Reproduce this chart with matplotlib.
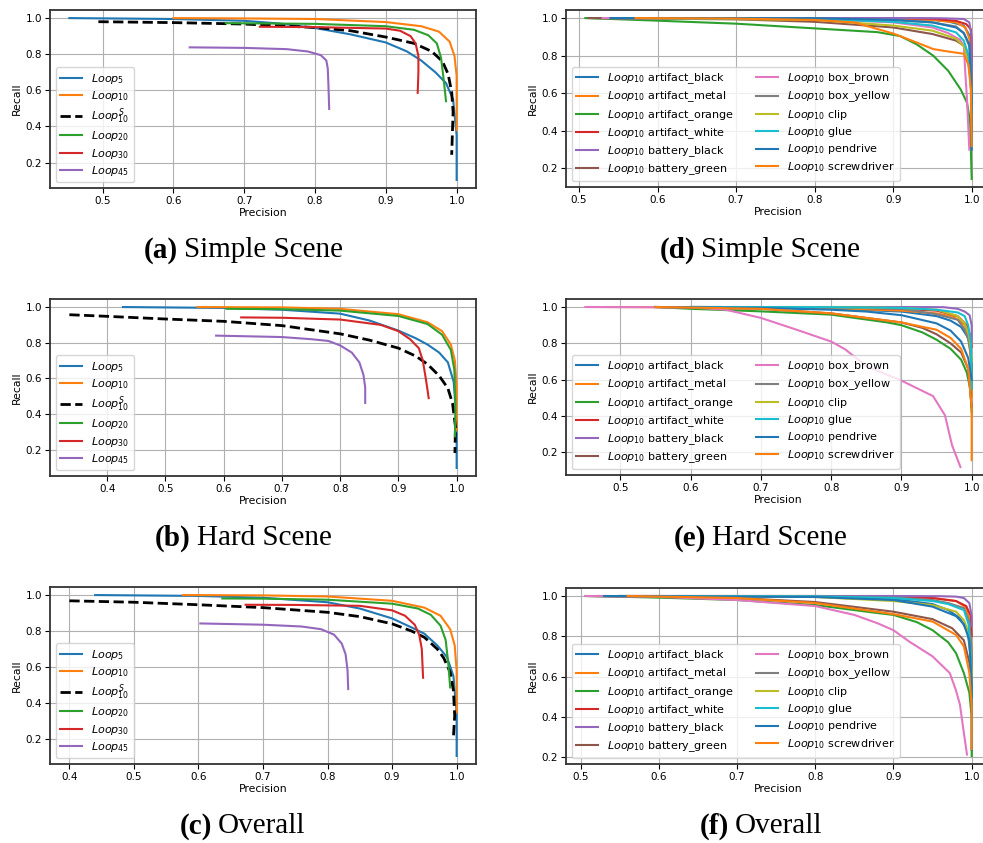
import matplotlib
matplotlib.use("Agg")
import matplotlib.pyplot as plt

# ---------------- data (precision, recall) ----------------
loop_names = ["$Loop_{5}$", "$Loop_{10}$", "$Loop^{S}_{10}$", "$Loop_{20}$", "$Loop_{30}$", "$Loop_{45}$"]

simple_loops = {
    "$Loop_{5}$": ([0.453, 0.6, 0.7, 0.75, 0.8, 0.85, 0.9, 0.93, 0.95, 0.97, 0.985, 0.995, 1.0, 1.0],
                   [1.0, 0.995, 0.985, 0.97, 0.945, 0.91, 0.865, 0.815, 0.765, 0.70, 0.64, 0.55, 0.35, 0.104]),
    "$Loop_{10}$": ([0.6, 0.7, 0.8, 0.9, 0.95, 0.975, 0.99, 0.997, 1.0, 1.0],
                    [1.0, 0.998, 0.995, 0.978, 0.955, 0.925, 0.87, 0.79, 0.68, 0.38]),
    "$Loop^{S}_{10}$": ([0.494, 0.6, 0.7, 0.8, 0.85, 0.9, 0.94, 0.965, 0.98, 0.988, 0.993, 0.995, 0.993],
                        [0.98, 0.975, 0.967, 0.948, 0.93, 0.895, 0.86, 0.815, 0.76, 0.69, 0.59, 0.48, 0.243]),
    "$Loop_{20}$": ([0.674, 0.8, 0.9, 0.94, 0.96, 0.972, 0.978, 0.982, 0.985],
                    [0.972, 0.968, 0.955, 0.935, 0.905, 0.86, 0.78, 0.65, 0.54]),
    "$Loop_{30}$": ([0.722, 0.8, 0.9, 0.92, 0.935, 0.942, 0.946, 0.946, 0.945],
                    [0.952, 0.95, 0.942, 0.93, 0.90, 0.86, 0.79, 0.70, 0.586]),
    "$Loop_{45}$": ([0.623, 0.7, 0.76, 0.79, 0.808, 0.816, 0.818, 0.819, 0.82],
                    [0.838, 0.835, 0.828, 0.815, 0.795, 0.765, 0.72, 0.62, 0.497]),
}

hard_loops = {
    "$Loop_{5}$": ([0.427, 0.6, 0.7, 0.8, 0.85, 0.9, 0.93, 0.95, 0.97, 0.985, 0.995, 1.0, 1.0],
                   [1.0, 0.995, 0.985, 0.963, 0.925, 0.868, 0.825, 0.79, 0.745, 0.69, 0.58, 0.35, 0.099]),
    "$Loop_{10}$": ([0.555, 0.7, 0.8, 0.9, 0.95, 0.975, 0.99, 0.997, 1.0, 1.0],
                    [1.0, 0.998, 0.99, 0.96, 0.915, 0.865, 0.79, 0.70, 0.55, 0.31]),
    "$Loop^{S}_{10}$": ([0.335, 0.4, 0.5, 0.6, 0.7, 0.8, 0.85, 0.9, 0.93, 0.95, 0.97, 0.985, 0.993, 0.998, 0.997],
                        [0.957, 0.948, 0.933, 0.92, 0.896, 0.85, 0.815, 0.77, 0.725, 0.68, 0.615, 0.545, 0.46, 0.33, 0.183]),
    "$Loop_{20}$": ([0.605, 0.7, 0.8, 0.9, 0.95, 0.975, 0.99, 0.996, 0.998, 0.997],
                    [0.99, 0.988, 0.98, 0.95, 0.905, 0.845, 0.76, 0.65, 0.45, 0.276]),
    "$Loop_{30}$": ([0.63, 0.7, 0.8, 0.87, 0.9, 0.92, 0.935, 0.942, 0.948, 0.952],
                    [0.942, 0.94, 0.93, 0.90, 0.865, 0.82, 0.77, 0.70, 0.58, 0.49]),
    "$Loop_{45}$": ([0.587, 0.7, 0.75, 0.78, 0.8, 0.82, 0.833, 0.84, 0.843, 0.843],
                    [0.84, 0.832, 0.82, 0.81, 0.785, 0.745, 0.69, 0.62, 0.55, 0.463]),
}

overall_loops = {
    "$Loop_{5}$": ([0.44, 0.6, 0.7, 0.8, 0.85, 0.9, 0.93, 0.95, 0.97, 0.985, 0.995, 1.0, 1.0],
                   [1.0, 0.995, 0.985, 0.96, 0.925, 0.87, 0.82, 0.785, 0.72, 0.655, 0.55, 0.34, 0.105]),
    "$Loop_{10}$": ([0.576, 0.7, 0.8, 0.9, 0.95, 0.975, 0.99, 0.997, 1.0, 1.0],
                    [1.0, 0.998, 0.992, 0.968, 0.93, 0.885, 0.81, 0.72, 0.58, 0.347]),
    "$Loop^{S}_{10}$": ([0.4, 0.5, 0.6, 0.7, 0.8, 0.85, 0.9, 0.93, 0.95, 0.97, 0.98, 0.99, 0.995, 0.997, 0.995],
                        [0.968, 0.96, 0.946, 0.93, 0.904, 0.88, 0.84, 0.80, 0.765, 0.70, 0.65, 0.57, 0.47, 0.33, 0.208]),
    "$Loop_{20}$": ([0.637, 0.7, 0.8, 0.9, 0.94, 0.96, 0.975, 0.983, 0.987, 0.99],
                    [0.981, 0.98, 0.974, 0.952, 0.925, 0.89, 0.83, 0.75, 0.62, 0.486]),
    "$Loop_{30}$": ([0.673, 0.75, 0.85, 0.9, 0.92, 0.935, 0.942, 0.946, 0.947, 0.948],
                    [0.946, 0.945, 0.94, 0.915, 0.885, 0.835, 0.78, 0.70, 0.62, 0.54]),
    "$Loop_{45}$": ([0.603, 0.7, 0.76, 0.79, 0.81, 0.822, 0.828, 0.831, 0.832],
                    [0.842, 0.835, 0.825, 0.81, 0.78, 0.73, 0.67, 0.58, 0.477]),
}

object_names = ["artifact_black", "artifact_metal", "artifact_orange", "artifact_white",
                "battery_black", "battery_green", "box_brown", "box_yellow",
                "clip", "glue", "pendrive", "screwdriver"]

simple_objects = {
    "artifact_black": ([0.52, 0.8, 0.9, 0.95, 0.97, 0.99, 0.997, 1.0, 1.0],
                       [1.0, 1.0, 0.998, 0.99, 0.982, 0.96, 0.91, 0.80, 0.62]),
    "artifact_metal": ([0.57, 0.8, 0.9, 0.95, 0.98, 0.992, 0.998, 1.0, 1.0],
                       [1.0, 0.999, 0.996, 0.99, 0.977, 0.95, 0.88, 0.65, 0.38]),
    "artifact_orange": ([0.508, 0.6, 0.7, 0.8, 0.88, 0.909, 0.93, 0.951, 0.97, 0.986, 0.994, 0.998, 1.0],
                        [1.0, 0.986, 0.97, 0.945, 0.925, 0.904, 0.86, 0.80, 0.72, 0.62, 0.55, 0.45, 0.144]),
    "artifact_white": ([0.55, 0.8, 0.9, 0.95, 0.98, 0.993, 0.999, 1.0, 1.0],
                       [1.0, 1.0, 0.999, 0.996, 0.985, 0.968, 0.94, 0.85, 0.78]),
    "battery_black": ([0.56, 0.8, 0.9, 0.96, 0.99, 0.997, 1.0, 1.0],
                      [1.0, 1.0, 1.0, 0.999, 0.995, 0.977, 0.90, 0.62]),
    "battery_green": ([0.512, 0.7, 0.8, 0.85, 0.9, 0.95, 0.98, 0.99, 0.995, 0.998, 1.0],
                      [1.0, 0.993, 0.98, 0.965, 0.95, 0.915, 0.88, 0.853, 0.80, 0.70, 0.55]),
    "box_brown": ([0.53, 0.8, 0.9, 0.95, 0.97, 0.985, 0.99, 0.992, 0.994, 0.997],
                  [1.0, 0.995, 0.977, 0.95, 0.92, 0.885, 0.853, 0.70, 0.57, 0.30]),
    "box_yellow": ([0.55, 0.8, 0.9, 0.95, 0.98, 0.99, 0.997, 1.0, 1.0],
                   [1.0, 0.998, 0.99, 0.977, 0.955, 0.92, 0.85, 0.70, 0.55]),
    "clip": ([0.57, 0.8, 0.9, 0.95, 0.98, 0.99, 0.995, 0.998, 1.0],
             [1.0, 0.99, 0.96, 0.933, 0.89, 0.85, 0.78, 0.68, 0.60]),
    "glue": ([0.56, 0.8, 0.9, 0.95, 0.98, 0.99, 0.996, 0.999, 1.0],
             [1.0, 0.995, 0.98, 0.96, 0.924, 0.88, 0.80, 0.66, 0.50]),
    "pendrive": ([0.54, 0.8, 0.9, 0.95, 0.98, 0.99, 0.997, 1.0, 1.0],
                 [1.0, 0.999, 0.99, 0.977, 0.95, 0.92, 0.86, 0.60, 0.30]),
    "screwdriver": ([0.572, 0.7, 0.8, 0.85, 0.9, 0.93, 0.951, 0.97, 0.99, 0.996, 0.999, 1.0],
                    [1.0, 0.997, 0.99, 0.977, 0.918, 0.87, 0.835, 0.822, 0.81, 0.75, 0.62, 0.32]),
}

hard_objects = {
    "artifact_black": ([0.55, 0.7, 0.8, 0.9, 0.95, 0.97, 0.985, 0.995, 1.0, 1.0],
                       [1.0, 0.997, 0.99, 0.975, 0.95, 0.925, 0.89, 0.83, 0.70, 0.55]),
    "artifact_metal": ([0.48, 0.7, 0.8, 0.9, 0.95, 0.975, 0.99, 0.997, 1.0, 1.0],
                       [1.0, 0.998, 0.993, 0.98, 0.965, 0.945, 0.90, 0.80, 0.62, 0.50]),
    "artifact_orange": ([0.55, 0.6, 0.7, 0.8, 0.88, 0.9, 0.93, 0.95, 0.97, 0.985, 0.993, 0.998, 1.0],
                        [1.0, 0.99, 0.976, 0.958, 0.915, 0.90, 0.86, 0.82, 0.77, 0.71, 0.64, 0.55, 0.42]),
    "artifact_white": ([0.6, 0.8, 0.9, 0.95, 0.98, 0.993, 0.999, 1.0],
                       [1.0, 0.999, 0.99, 0.98, 0.95, 0.90, 0.83, 0.78]),
    "battery_black": ([0.6, 0.8, 0.9, 0.96, 0.98, 0.99, 0.997, 1.0, 1.0],
                      [1.0, 1.0, 1.0, 0.999, 0.99, 0.975, 0.955, 0.90, 0.82]),
    "battery_green": ([0.55, 0.7, 0.8, 0.9, 0.93, 0.95, 0.97, 0.985, 0.995, 1.0],
                      [1.0, 0.99, 0.965, 0.915, 0.885, 0.85, 0.80, 0.75, 0.66, 0.45]),
    "box_brown": ([0.45, 0.6, 0.65, 0.7, 0.75, 0.8, 0.82, 0.85, 0.9, 0.945, 0.962, 0.972, 0.984],
                  [1.0, 0.998, 0.985, 0.94, 0.876, 0.81, 0.767, 0.675, 0.595, 0.51, 0.404, 0.24, 0.12]),
    "box_yellow": ([0.6, 0.8, 0.9, 0.95, 0.98, 0.99, 0.997, 1.0, 1.0],
                   [1.0, 0.998, 0.99, 0.96, 0.93, 0.876, 0.80, 0.68, 0.55]),
    "clip": ([0.6, 0.8, 0.9, 0.95, 0.98, 0.99, 0.996, 0.999, 1.0],
             [1.0, 0.999, 0.995, 0.985, 0.95, 0.91, 0.85, 0.76, 0.70]),
    "glue": ([0.6, 0.8, 0.9, 0.95, 0.98, 0.99, 0.995, 0.999, 1.0],
             [1.0, 0.999, 0.995, 0.985, 0.97, 0.95, 0.90, 0.80, 0.55]),
    "pendrive": ([0.55, 0.7, 0.8, 0.85, 0.9, 0.95, 0.97, 0.985, 0.995, 1.0],
                 [1.0, 0.995, 0.985, 0.975, 0.955, 0.91, 0.87, 0.81, 0.72, 0.60]),
    "screwdriver": ([0.55, 0.7, 0.8, 0.9, 0.95, 0.97, 0.985, 0.995, 1.0, 1.0],
                    [1.0, 0.99, 0.965, 0.915, 0.875, 0.83, 0.77, 0.66, 0.45, 0.158]),
}

overall_objects = {
    "artifact_black": ([0.52, 0.8, 0.9, 0.95, 0.97, 0.985, 0.995, 1.0, 1.0],
                       [1.0, 0.998, 0.985, 0.96, 0.93, 0.89, 0.82, 0.65, 0.50]),
    "artifact_metal": ([0.56, 0.8, 0.9, 0.95, 0.98, 0.992, 0.998, 1.0, 1.0],
                       [1.0, 0.999, 0.995, 0.99, 0.975, 0.945, 0.88, 0.72, 0.58]),
    "artifact_orange": ([0.506, 0.6, 0.7, 0.8, 0.88, 0.9, 0.93, 0.95, 0.97, 0.98, 0.99, 0.997, 1.0, 1.0],
                        [1.0, 0.992, 0.98, 0.955, 0.915, 0.906, 0.87, 0.83, 0.77, 0.716, 0.617, 0.52, 0.40, 0.205]),
    "artifact_white": ([0.55, 0.8, 0.9, 0.95, 0.98, 0.993, 0.999, 1.0],
                       [1.0, 1.0, 0.998, 0.99, 0.975, 0.95, 0.90, 0.80]),
    "battery_black": ([0.56, 0.8, 0.9, 0.96, 0.98, 0.99, 0.997, 1.0, 1.0],
                      [1.0, 1.0, 1.0, 0.999, 0.997, 0.99, 0.965, 0.90, 0.85]),
    "battery_green": ([0.51, 0.7, 0.8, 0.9, 0.95, 0.975, 0.99, 0.997, 1.0],
                      [1.0, 0.99, 0.97, 0.922, 0.885, 0.84, 0.78, 0.67, 0.50]),
    "box_brown": ([0.506, 0.6, 0.7, 0.8, 0.85, 0.88, 0.9, 0.92, 0.95, 0.972, 0.98, 0.985, 0.99, 0.994],
                  [1.0, 0.996, 0.98, 0.95, 0.906, 0.864, 0.83, 0.774, 0.70, 0.617, 0.53, 0.46, 0.32, 0.212]),
    "box_yellow": ([0.55, 0.8, 0.9, 0.95, 0.97, 0.99, 0.997, 1.0, 1.0],
                   [1.0, 0.999, 0.993, 0.98, 0.965, 0.94, 0.87, 0.72, 0.60]),
    "clip": ([0.55, 0.8, 0.9, 0.95, 0.98, 0.99, 0.996, 0.999, 1.0],
             [1.0, 0.995, 0.975, 0.955, 0.922, 0.88, 0.82, 0.70, 0.60]),
    "glue": ([0.55, 0.8, 0.9, 0.95, 0.97, 0.99, 0.996, 0.999, 1.0],
             [1.0, 0.998, 0.99, 0.975, 0.96, 0.93, 0.86, 0.70, 0.50]),
    "pendrive": ([0.53, 0.8, 0.9, 0.95, 0.98, 0.99, 0.997, 1.0, 1.0],
                 [1.0, 0.995, 0.98, 0.947, 0.90, 0.86, 0.78, 0.55, 0.236]),
    "screwdriver": ([0.56, 0.7, 0.8, 0.9, 0.95, 0.98, 0.99, 0.997, 1.0, 1.0],
                    [1.0, 0.99, 0.965, 0.91, 0.873, 0.807, 0.75, 0.62, 0.45, 0.24]),
}

captions = [("(a)", "Simple Scene"), ("(b)", "Hard Scene"), ("(c)", "Overall"),
            ("(d)", "Simple Scene"), ("(e)", "Hard Scene"), ("(f)", "Overall")]

# ---------------- figure ----------------
W, H = 983, 843
fig = plt.figure(figsize=(W / 100, H / 100), dpi=100)

tab = plt.rcParams["axes.prop_cycle"].by_key()["color"]
loop_colors = [tab[0], tab[1], "black", tab[2], tab[3], tab[4]]


def px_axes(left, top, right, bottom):
    return fig.add_axes([left / W, 1 - bottom / H, (right - left) / W, (bottom - top) / H])


def style(ax):
    ax.grid(True, color="#b0b0b0", linewidth=0.8)
    ax.set_axisbelow(True)
    for s in ax.spines.values():
        s.set_linewidth(1.3)
        s.set_color("#333333")
    ax.tick_params(labelsize=7.5, length=3.5, width=0.8, pad=2)
    ax.set_xlabel("Precision", fontsize=7.8, labelpad=2)
    ax.set_ylabel("Recall", fontsize=7.8, labelpad=3)


left_boxes = [(50, 10, 476, 188), (50, 299, 476, 476), (50, 587, 476, 764)]
right_boxes = [(566, 10, 991, 187), (566, 299, 991, 475), (566, 588, 991, 764)]

for box, data in zip(left_boxes, [simple_loops, hard_loops, overall_loops]):
    ax = px_axes(*box)
    for name, col in zip(loop_names, loop_colors):
        p, r = data[name]
        if name == "$Loop^{S}_{10}$":
            ax.plot(p, r, color=col, linestyle="--", linewidth=2, label=name)
        else:
            ax.plot(p, r, color=col, linewidth=1.5, label=name)
    style(ax)
    ax.legend(loc="lower left", fontsize=8, handlelength=2.0, labelspacing=0.3,
              borderaxespad=0.5, framealpha=0.8)

for box, data in zip(right_boxes, [simple_objects, hard_objects, overall_objects]):
    ax = px_axes(*box)
    for i, name in enumerate(object_names):
        p, r = data[name]
        ax.plot(p, r, color=tab[i % 10], linewidth=1.5, label="$Loop_{10}$ " + name)
    style(ax)
    ax.legend(loc="lower left", ncol=2, fontsize=8, handlelength=2.0, labelspacing=0.3,
              columnspacing=2.0, borderaxespad=0.5, framealpha=0.8)

# captions under each panel
cap_pos = [(178, 250), (191, 538), (212, 826), (695, 250), (706, 538), (729, 826)]
for (tag, txt), (x, y) in zip(captions, cap_pos):
    fig.text(x / W, 1 - y / H, tag, ha="right", va="center", fontsize=21,
             fontweight="bold", family="Liberation Serif")
    fig.text((x + 6) / W, 1 - y / H, txt, ha="left", va="center", fontsize=21,
             family="Liberation Serif")

fig.savefig("out.png", dpi=100)
